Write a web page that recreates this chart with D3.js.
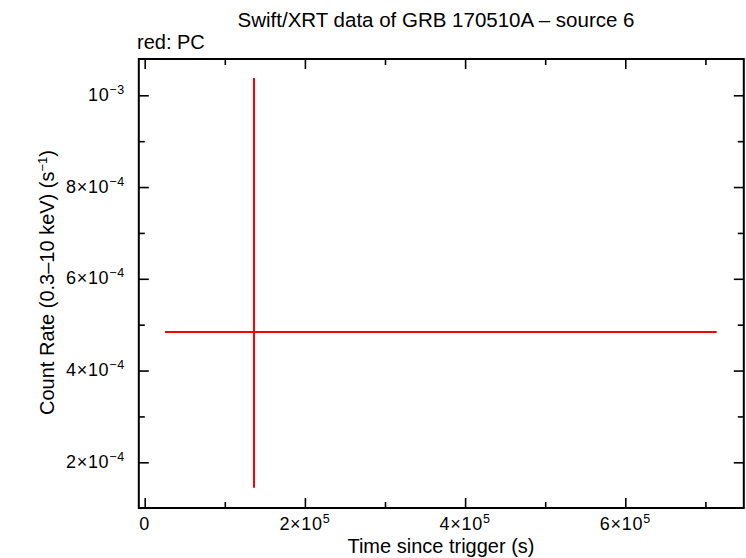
<!DOCTYPE html>
<html><head><meta charset="utf-8">
<script src="https://cdn.jsdelivr.net/npm/d3@7"></script>
<style>
body{margin:0;background:#fff;}
text{font-family:"Liberation Sans",Arial,Helvetica,sans-serif;fill:#000;}
</style></head>
<body><svg id="c" width="746" height="558"></svg>
<script>
// ---- data ----
const seriesName = ["PC"];
const timeCenter = [136450];
const timeErrMinus = [111100];
const timeErrPlus = [577650];
const rateCenter = [4.84e-4];
const rateErrMinus = [3.394e-4];
const rateErrPlus = [5.537e-4];
const xMajorTicks = [0, 2e5, 4e5, 6e5];
const xMajorLabels = [["0",""],["2×10","5"],["4×10","5"],["6×10","5"]];
const xMinorTicks = [1e5, 3e5, 5e5, 7e5];
const yMajorTicks = [2e-4, 4e-4, 6e-4, 8e-4, 1e-3];
const yMajorLabels = [["2×10","−4"],["4×10","−4"],["6×10","−4"],["8×10","−4"],["10","−3"]];
const yMinorTicks = [3e-4, 5e-4, 7e-4, 9e-4];
const title = "Swift/XRT data of GRB 170510A – source 6";
const legendText = "red: PC";
const xTitle = "Time since trigger (s)";
const yTitle = ["Count Rate (0.3–10 keV) (s","−1",")"];

const svg = d3.select("#c");
const L = 138.8, R = 743.8, T = 59, B = 508;
const x = d3.scaleLinear().domain([-7366, 747940]).range([L, R]);
const y = d3.scaleLinear().domain([1.004e-4, 10.791e-4]).range([B, T]);

// error bars
const g = svg.append("g");
timeCenter.forEach((t, i) => {
  g.append("line").attr("x1", x(t - timeErrMinus[i])).attr("x2", x(t + timeErrPlus[i]))
    .attr("y1", y(rateCenter[i])).attr("y2", y(rateCenter[i]))
    .attr("stroke", "#ff0000").attr("stroke-width", 2);
  g.append("line").attr("x1", x(t)).attr("x2", x(t))
    .attr("y1", y(rateCenter[i] - rateErrMinus[i])).attr("y2", y(rateCenter[i] + rateErrPlus[i]))
    .attr("stroke", "#ff0000").attr("stroke-width", 2);
});

// ticks via d3 axes (inward)
function ax(axisFn, scale, ticks, size, tr) {
  const a = svg.append("g").attr("transform", tr)
    .call(axisFn(scale).tickValues(ticks).tickSize(size).tickFormat(""));
  a.select(".domain").remove();
  a.selectAll("line").attr("stroke", "#000").attr("stroke-width", 1.6);
}
ax(d3.axisTop, x, xMajorTicks, 10, `translate(0,${B})`);
ax(d3.axisTop, x, xMinorTicks, 6, `translate(0,${B})`);
ax(d3.axisBottom, x, xMajorTicks, 10, `translate(0,${T})`);
ax(d3.axisBottom, x, xMinorTicks, 6, `translate(0,${T})`);
ax(d3.axisRight, y, yMajorTicks, 10, `translate(${L},0)`);
ax(d3.axisRight, y, yMinorTicks, 6, `translate(${L},0)`);
ax(d3.axisLeft, y, yMajorTicks, 10, `translate(${R},0)`);
ax(d3.axisLeft, y, yMinorTicks, 6, `translate(${R},0)`);

// frame
svg.append("rect").attr("x", L).attr("y", T).attr("width", R - L).attr("height", B - T)
  .attr("fill", "none").attr("stroke", "#000").attr("stroke-width", 2);

// tick labels
const fs = 18, ss = 12.5, ls = 0.7;
xMajorTicks.forEach((v, i) => {
  const t = svg.append("text").attr("x", x(v)).attr("y", 530)
    .attr("text-anchor", "middle").attr("font-size", fs).attr("letter-spacing", ls);
  t.append("tspan").text(xMajorLabels[i][0]);
  if (xMajorLabels[i][1]) t.append("tspan").attr("dy", -7).attr("font-size", ss).text(xMajorLabels[i][1]);
});
yMajorTicks.forEach((v, i) => {
  const t = svg.append("text").attr("x", 125).attr("y", y(v) + 5.5)
    .attr("text-anchor", "end").attr("font-size", fs).attr("letter-spacing", ls);
  t.append("tspan").text(yMajorLabels[i][0]);
  t.append("tspan").attr("dy", -7).attr("font-size", ss).text(yMajorLabels[i][1]);
});

// titles
svg.append("text").attr("x", 436).attr("y", 27).attr("text-anchor", "middle")
  .attr("font-size", 20.5).text(title);
svg.append("text").attr("x", 137).attr("y", 49).attr("font-size", 20).text(legendText);
svg.append("text").attr("x", 441).attr("y", 553).attr("text-anchor", "middle")
  .attr("font-size", 20).text(xTitle);
const yt = svg.append("text").attr("transform", "translate(53.5,282.5) rotate(-90)")
  .attr("text-anchor", "middle").attr("font-size", 20);
yt.append("tspan").text(yTitle[0]);
yt.append("tspan").attr("dy", -7).attr("font-size", 13).text(yTitle[1]);
yt.append("tspan").attr("dy", 7).text(yTitle[2]);
</script></body></html>
